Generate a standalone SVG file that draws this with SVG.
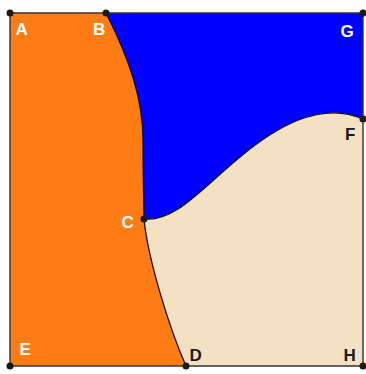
<svg xmlns="http://www.w3.org/2000/svg" width="366" height="374" viewBox="0 0 366 374">
<style>
.orange{fill:#FF7C14;stroke:none}
.blue{fill:#0000FF;stroke:none}
.beige{fill:#F4E1C3;stroke:none}
.edge{fill:none;stroke:#333333;stroke-width:1.4}
.curve{fill:none;stroke:#111111;stroke-width:1.3}
.pt{fill:#1a1a1a}
.lbl{font-family:"Liberation Sans",Arial,sans-serif;font-weight:bold;font-size:17px}
.w{fill:#ffffff}
.d{fill:#1a1a1a}
</style>
<rect width="366" height="374" fill="#ffffff"/>
<g id="regions">
<path id="region-orange" class="orange" d="M10,13 L106,13 C130,60 143,100 143,140 C143,180 144,200 144,219 C148,260 170,330 186,366 L10,366 Z"/>
<path id="region-blue" class="blue" d="M106,13 L363,13 L363,119 C320,100 275,128 240,157 C200,190 175,222 144,219 C144,200 143,180 143,140 C143,100 130,60 106,13 Z"/>
<path id="region-beige" class="beige" d="M144,219 C175,222 200,190 240,157 C275,128 320,100 363,119 L363,366 L186,366 C170,330 148,260 144,219 Z"/>
</g>
<g id="connectors">
<path class="edge" d="M10,13 L363,13 L363,366 L10,366 Z"/>
<path class="curve" d="M106,13 C130,60 143,100 143,140 C143,180 144,200 144,219"/>
<path class="curve" d="M144,219 C148,260 170,330 186,366"/>
<path class="curve" d="M144,219 C175,222 200,190 240,157 C275,128 320,100 363,119"/>
</g>
<g id="A"><circle class="pt" cx="10" cy="13" r="3.5"/><text class="lbl w" x="15.5" y="34.5">A</text></g>
<g id="B"><circle class="pt" cx="106" cy="13" r="3.5"/><text class="lbl w" x="93" y="34.5">B</text></g>
<g id="G"><circle class="pt" cx="363" cy="13" r="3.5"/><text class="lbl w" x="340.5" y="36.5">G</text></g>
<g id="F"><circle class="pt" cx="363" cy="119" r="3.5"/><text class="lbl d" x="345" y="139.5">F</text></g>
<g id="C"><circle class="pt" cx="144" cy="219" r="3.5"/><text class="lbl w" x="121.5" y="227.5">C</text></g>
<g id="E"><circle class="pt" cx="10" cy="366" r="3.5"/><text class="lbl w" x="19.5" y="355">E</text></g>
<g id="D"><circle class="pt" cx="186" cy="366" r="3.5"/><text class="lbl d" x="189.5" y="360.5">D</text></g>
<g id="H"><circle class="pt" cx="363" cy="366" r="3.5"/><text class="lbl d" x="343.5" y="360.5">H</text></g>
</svg>
